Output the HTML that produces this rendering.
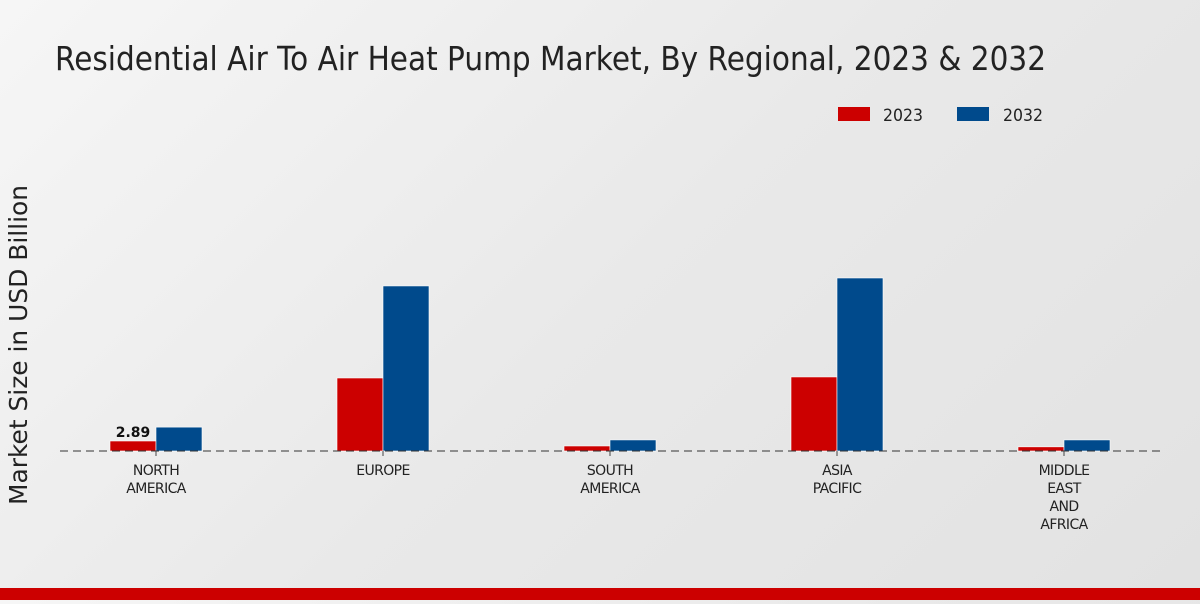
<!DOCTYPE html>
<html><head><meta charset="utf-8"><style>
html,body{margin:0;padding:0;}
body{width:1200px;height:600px;overflow:hidden;background:linear-gradient(135deg,#f6f6f6 0%,#e9e9e9 50%,#e2e2e2 100%);font-family:"DejaVu Sans","Liberation Sans",sans-serif;}
</style></head><body>
<svg id="chart" width="1200" height="600" xmlns="http://www.w3.org/2000/svg">
<text x="55" y="70" font-size="33" fill="#222" textLength="991" lengthAdjust="spacingAndGlyphs" font-family="DejaVu Sans, sans-serif">Residential Air To Air Heat Pump Market, By Regional, 2023 &amp; 2032</text>
<g>
<rect x="838" y="107" width="32" height="14" fill="#cc0000"/>
<text x="883" y="121" font-size="17" fill="#222" textLength="40" lengthAdjust="spacingAndGlyphs">2023</text>
<rect x="957" y="107" width="32" height="14" fill="#004a8c"/>
<text x="1003" y="121" font-size="17" fill="#222" textLength="40" lengthAdjust="spacingAndGlyphs">2032</text>
</g>
<text transform="translate(27,345) rotate(-90)" text-anchor="middle" font-size="25" fill="#222" textLength="320" lengthAdjust="spacingAndGlyphs">Market Size in USD Billion</text>
<g id="bars"></g>
<line x1="60" y1="451" x2="1160" y2="451" stroke="#333" stroke-width="1" stroke-dasharray="8,5"/>
<g id="xlabels"></g>
<rect x="0" y="588" width="1200" height="12" fill="#cc0000"/>
</svg>
<script>
const categories=[["NORTH","AMERICA"],["EUROPE"],["SOUTH","AMERICA"],["ASIA","PACIFIC"],["MIDDLE","EAST","AND","AFRICA"]];
const values2023=[2.89,21.1,1.45,21.4,1.2];
const values2032=[6.9,47.7,3.2,50.0,3.2];
const labels2023=["2.89",null,null,null,null];
const NS="http://www.w3.org/2000/svg";
const baseY=451, pxPer=10/2.89;
function xCenter(i){return 156+227*i;}
function yScale(v){return baseY-v*pxPer;}
const bars=document.getElementById('bars'), xl=document.getElementById('xlabels');
categories.forEach((c,i)=>{
  const cx=xCenter(i);
  [[values2023,"#cc0000",-46,"2023"],[values2032,"#004a8c",0,"2032"]].forEach(([arr,col,off,yr])=>{
    const r=document.createElementNS(NS,'rect');
    const y=yScale(arr[i]);
    r.setAttribute('x',cx+off);r.setAttribute('y',y);r.setAttribute('width',46);r.setAttribute('height',baseY-y);
    r.setAttribute('fill',col);r.setAttribute('stroke','#fff');r.setAttribute('stroke-width','0.6');
    
    
    bars.appendChild(r);
  });
  if(labels2023[i]){
    const t=document.createElementNS(NS,'text');
    t.setAttribute('x',cx-23);t.setAttribute('y',yScale(values2023[i])-4);
    t.setAttribute('text-anchor','middle');t.setAttribute('font-size','14');t.setAttribute('font-weight','bold');t.setAttribute('fill','#111');
    t.textContent=labels2023[i];
    
    
    bars.appendChild(t);
  }
  const tk=document.createElementNS(NS,'line');
  tk.setAttribute('x1',cx);tk.setAttribute('x2',cx);tk.setAttribute('y1',451);tk.setAttribute('y2',456);tk.setAttribute('stroke','#444');
  
  
  xl.appendChild(tk);
  c.forEach((line,j)=>{
    const t=document.createElementNS(NS,'text');
    t.setAttribute('x',cx);t.setAttribute('y',475+j*18);t.setAttribute('text-anchor','middle');
    t.setAttribute('font-size','14');t.setAttribute('fill','#222');t.setAttribute('letter-spacing','-0.6');
    t.textContent=line;
    
    
    xl.appendChild(t);
  });
});
</script>
</body></html>
